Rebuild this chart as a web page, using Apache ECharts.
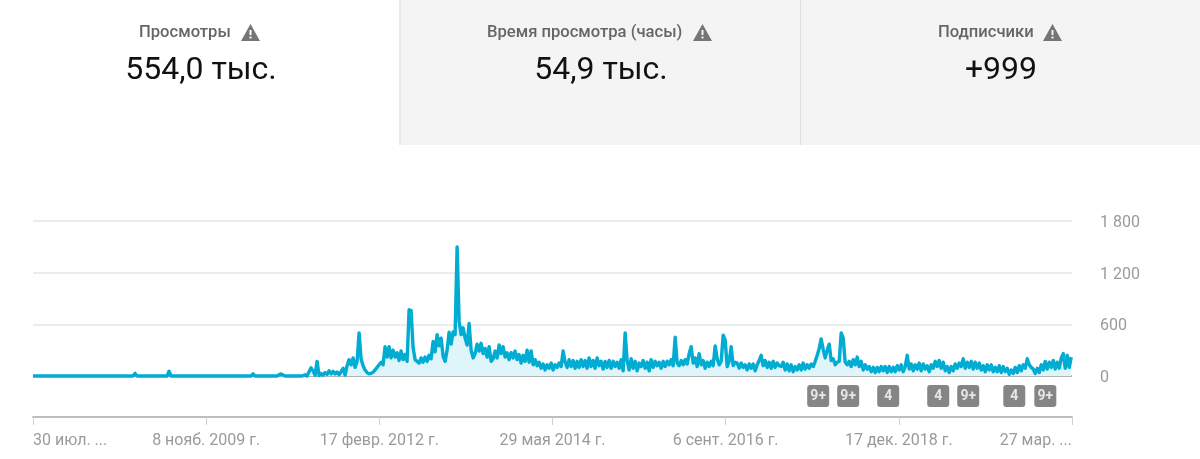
<!DOCTYPE html>
<html><head><meta charset="utf-8">
<style>html,body{margin:0;padding:0;background:#fff}#c{width:1200px;height:459px}</style>
<script src="https://cdn.jsdelivr.net/npm/echarts@6/dist/echarts.min.js"></script>
</head><body><div id="c"></div>
<script>
const tickLabels = ['30 июл. ...','8 нояб. 2009 г.','17 февр. 2012 г.','29 мая 2014 г.','6 сент. 2016 г.','17 дек. 2018 г.','27 мар. ...'];
const yLabels = {0:'0',600:'600',1200:'1 200',1800:'1 800'};
const tickDays = 831;
const totalDays = 4986;
const sampleDays = 9.6;
const views = [
0,0,0,0,0,0,0,0,0,0,0,0,0,0,0,0,0,0,0,0,0,0,0,0,0,
0,0,0,0,0,0,0,0,0,0,0,0,0,0,0,0,0,0,0,0,0,0,0,0,0,
0,30,0,0,0,0,0,0,0,0,0,0,0,0,0,0,0,0,55,0,0,0,0,0,0,
0,0,0,0,0,0,0,0,0,0,0,0,0,0,0,0,0,0,0,0,0,0,0,0,0,
0,0,0,0,0,0,0,0,0,0,25,0,0,0,0,0,0,0,0,0,0,0,0,15,25,
10,0,0,0,0,0,0,0,0,0,5,15,0,50,95,60,10,170,5,30,10,40,20,60,25,
55,25,45,15,50,90,10,120,190,130,210,100,170,500,200,120,70,40,25,30,45,70,100,130,160,
130,340,220,340,210,300,220,270,180,290,190,250,170,770,760,330,190,170,150,210,160,220,170,240,200,
400,280,480,350,440,230,170,300,510,370,510,480,1500,640,480,560,440,360,610,300,210,260,370,290,380,
260,320,220,340,170,200,290,210,360,260,340,220,270,190,270,210,290,190,250,150,240,170,300,160,290,
130,190,120,160,90,140,70,130,90,150,70,130,100,150,110,290,160,100,190,110,180,90,170,100,190,
110,180,90,210,110,180,90,210,120,170,80,170,100,180,90,170,110,160,90,190,60,500,180,70,200,
90,170,60,150,110,180,90,160,60,190,100,170,120,160,90,170,110,170,130,190,120,450,150,120,180,
130,190,140,260,340,150,210,110,260,130,180,90,160,110,170,120,350,200,130,170,475,420,110,170,340,
120,160,150,90,150,100,130,70,140,90,140,60,130,180,240,120,180,100,160,90,170,100,150,120,110,
160,70,140,60,130,50,110,70,130,70,150,80,130,90,140,110,170,240,320,430,310,210,300,370,180,
200,130,160,170,500,440,160,130,170,110,190,130,220,110,170,70,130,80,110,50,100,40,100,50,110,
60,110,40,110,50,100,50,120,70,130,50,110,240,80,140,60,130,80,150,60,140,80,120,50,130,
90,170,110,180,90,160,60,110,40,110,60,140,90,150,110,200,90,160,100,170,80,160,90,150,70,
120,50,130,70,130,50,100,50,120,40,110,50,90,20,70,30,100,40,120,60,130,90,200,130,100,
80,30,90,40,130,70,170,80,160,100,180,80,160,90,210,260,90,240,100,220
];
const badgeDays = [3768,3912,4104,4344,4488,4709,4858];
const badgeLabels = ['9+','9+','4','4','9+','4','9+'];
const tiles = [
  {title:'Просмотры', titleX:139, iconX:242, value:'554,0 тыс.', valueX:201, bg:'#ffffff'},
  {title:'Время просмотра (часы)', titleX:487, iconX:694, value:'54,9 тыс.', valueX:601, bg:'#f4f4f4'},
  {title:'Подписчики', titleX:938, iconX:1044, value:'+999', valueX:1001, bg:'#f4f4f4'}
];
const badgeSymbol = 'path://M3,0H19A3,3,0,0,1,22,3V19A3,3,0,0,1,19,22H3A3,3,0,0,1,0,19V3A3,3,0,0,1,3,0Z';
const font = 'Roboto, sans-serif';

const graphics = [
  {type:'rect',silent:true,z:-1,shape:{x:400,y:0,width:800,height:145},style:{fill:'#f4f4f4'}},
  {type:'rect',silent:true,z:-1,shape:{x:399,y:0,width:2,height:145},style:{fill:'#e9e9e9'}},
  {type:'rect',silent:true,z:-1,shape:{x:800,y:0,width:1,height:145},style:{fill:'#dedede'}}
];
tiles.forEach(t=>{
  graphics.push({type:'text',silent:true,style:{text:t.title,x:t.titleX,y:33,fill:'#666',font:'500 16.6px '+font,textVerticalAlign:'middle',textAlign:'left'}});
  graphics.push({type:'polygon',silent:true,shape:{points:[[t.iconX-1,41],[t.iconX+18,41],[t.iconX+8.5,24]]},style:{fill:'#757575'}});
  graphics.push({type:'rect',silent:true,shape:{x:t.iconX+7.5,y:30,width:2,height:5},style:{fill:t.bg}});
  graphics.push({type:'rect',silent:true,shape:{x:t.iconX+7.5,y:36.5,width:2,height:2},style:{fill:t.bg}});
  graphics.push({type:'text',silent:true,style:{text:t.value,x:t.valueX,y:71,fill:'#111',font:'400 32px '+font,textVerticalAlign:'middle',textAlign:'center'}});
});

const chart = echarts.init(document.getElementById('c'),null,{renderer:'canvas'});
chart.setOption({
  animation:false,
  graphic:graphics,
  grid:[
    {left:33,width:1039,top:221,height:155},
    {left:33,width:1039,top:385,height:22}
  ],
  xAxis:[
    {type:'value',gridIndex:0,min:0,max:totalDays,interval:tickDays,position:'bottom',offset:41,
     splitLine:{show:false},
     axisLine:{show:true,onZero:false,lineStyle:{color:'#bdbdbd',width:2}},
     axisTick:{show:true,length:8,inside:false,lineStyle:{color:'#d0d0d0',width:1}},
     axisLabel:{color:'#9a9a9a',fontFamily:font,fontSize:16,margin:16,alignMinLabel:'left',alignMaxLabel:'right',
       showMinLabel:true,showMaxLabel:true,hideOverlap:false,
       formatter:v=>tickLabels[Math.round(v/tickDays)]}},
    {type:'value',gridIndex:1,min:0,max:totalDays,show:false}
  ],
  yAxis:[
    {type:'value',gridIndex:0,min:0,max:1800,interval:600,position:'right',
     axisLine:{show:false},axisTick:{show:false},
     splitLine:{show:true,lineStyle:{color:['#b2b2b2','#ececec','#ececec','#ececec'],width:2}},
     axisLabel:{margin:28,formatter:v=>'{a|'+yLabels[v]+'}',
       rich:{a:{color:'#9a9a9a',fontFamily:font,fontSize:16,padding:[4,0,0,0]}}}},
    {type:'value',gridIndex:1,min:0,max:1,show:false}
  ],
  series:[
    {type:'line',xAxisIndex:0,yAxisIndex:0,showSymbol:false,symbol:'none',clip:false,
     data:views.map((v,i)=>[i*sampleDays,v]),
     lineStyle:{color:'#00acd2',width:3.4,join:'round'},
     areaStyle:{color:'#e0f5fa',opacity:1}},
    {type:'scatter',xAxisIndex:1,yAxisIndex:1,symbol:badgeSymbol,symbolSize:[22,22],
     data:badgeDays.map((d,i)=>[d,0.5,badgeLabels[i]]),
     itemStyle:{color:'#666'},
     label:{show:true,position:'inside',color:'#fff',fontFamily:font,fontWeight:700,fontSize:14,
       formatter:p=>p.data[2]}}
  ]
});
</script></body></html>
